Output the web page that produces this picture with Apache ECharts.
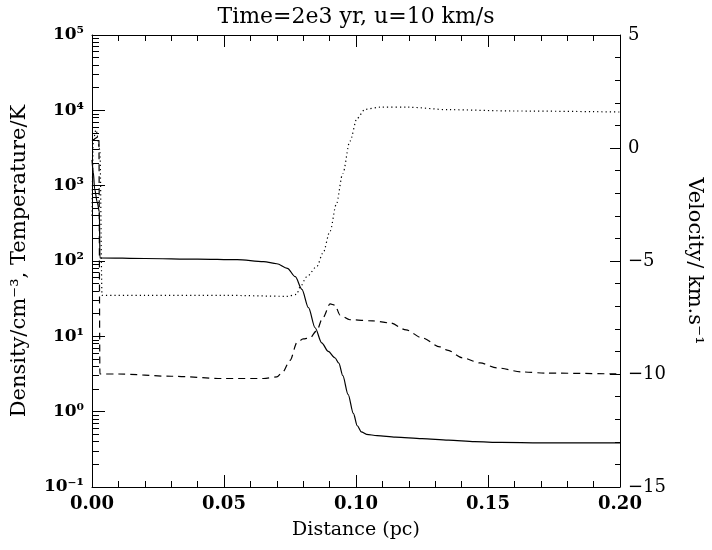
<!DOCTYPE html>
<html>
<head>
<meta charset="utf-8">
<script src="https://cdn.jsdelivr.net/npm/echarts@6/dist/echarts.min.js"></script>
<style>html,body{margin:0;padding:0;background:#fff;}#c{width:712px;height:550px;}</style>
</head>
<body>
<div id="c"></div>
<script>
// Density (solid), left log axis
var densX = [0, 0.0005, 0.001, 0.002, 0.0028, 0.003, 0.02, 0.04, 0.055, 0.065, 0.07, 0.074, 0.077, 0.0795, 0.082, 0.0845, 0.087, 0.0895, 0.092, 0.0935, 0.095, 0.097, 0.099, 0.1005, 0.102, 0.104, 0.108, 0.115, 0.125, 0.135, 0.145, 0.155, 0.17, 0.2];
var densY = [2200, 1500, 900, 600, 450, 110, 108, 106, 104, 98, 92, 80, 62, 42, 24, 13, 8.2, 6.3, 5.2, 4.4, 3.0, 1.7, 0.95, 0.65, 0.54, 0.50, 0.48, 0.46, 0.44, 0.42, 0.40, 0.39, 0.385, 0.385];
// Temperature (dotted), left log axis
var tempX = [0, 0.0005, 0.0015, 0.003, 0.0038, 0.02, 0.05, 0.074, 0.0775, 0.0788, 0.0814, 0.0852, 0.0875, 0.0902, 0.0925, 0.095, 0.0977, 0.1004, 0.1034, 0.109, 0.12, 0.135, 0.16, 0.2];
var tempY = [400, 4000, 5500, 3000, 35, 35, 35, 34, 36, 45, 62, 85, 128, 250, 560, 1450, 3900, 7800, 10300, 11000, 11000, 10200, 9800, 9500];
// Velocity (dashed), right axis
var velX = [0, 0.0026, 0.003, 0.01, 0.03, 0.05, 0.065, 0.07, 0.0723, 0.075, 0.0777, 0.08, 0.0826, 0.085, 0.0875, 0.0902, 0.092, 0.094, 0.0977, 0.1064, 0.1129, 0.119, 0.125, 0.1318, 0.1345, 0.1405, 0.147, 0.1534, 0.163, 0.172, 0.2];
var velY = [0.3, 0.5, -10.0, -10.0, -10.1, -10.2, -10.2, -10.13, -9.9, -9.4, -8.6, -8.45, -8.4, -8.1, -7.5, -6.9, -6.95, -7.4, -7.6, -7.65, -7.74, -8.05, -8.4, -8.8, -8.94, -9.29, -9.51, -9.73, -9.91, -9.96, -10.0];
// Tick labels
var xTicks = [0, 0.05, 0.10, 0.15, 0.20];
var logExponents = [-1, 0, 1, 2, 3, 4, 5];
var supMap = {'-':'\u207B','0':'\u2070','1':'\u00B9','2':'\u00B2','3':'\u00B3','4':'\u2074','5':'\u2075'};

function sup(n){ return String(n).split('').map(function(c){return supMap[c];}).join(''); }
function pairs(xs, ys, f){ return xs.map(function(x,i){ return [x, f ? f(ys[i]) : ys[i]]; }); }

var minorLog = [];
for (var e = -1; e < 5; e++) for (var k = 2; k <= 9; k++) minorLog.push(e + Math.log10(k));

var FONT = 'DejaVu Serif';
var chart = echarts.init(document.getElementById('c'), null, {renderer:'canvas'});
var axLine = {show:true, onZero:false, lineStyle:{color:'#000', width:1}};
chart.setOption({
  animation:false,
  backgroundColor:'#fff',
  title:{text:'Time=2e3 yr, u=10 km/s', left:'center', top:1,
    textStyle:{fontFamily:FONT, fontSize:22, fontWeight:'normal', color:'#000'}},
  grid:{left:92, right:92, top:35, bottom:63, containLabel:false, outerBoundsMode:'none'},
  xAxis:[
    {type:'value', position:'bottom', min:0, max:0.2, interval:0.05,
     axisLine:axLine, splitLine:{show:false},
     axisTick:{inside:true, length:12, lineStyle:{color:'#000'}},
     minorTick:{show:true, splitNumber:5, length:6, lineStyle:{color:'#000'}},
     axisLabel:{margin:8, fontFamily:FONT, fontSize:18, fontWeight:'bold', color:'#000',
       formatter:function(v){return v.toFixed(2);}},
     name:'Distance (pc)', nameLocation:'middle', nameGap:34,
     nameTextStyle:{fontFamily:FONT, fontSize:19, color:'#000'}},
    {type:'value', position:'top', min:0, max:0.2, interval:0.05,
     axisLine:axLine, splitLine:{show:false},
     axisTick:{inside:true, length:12, lineStyle:{color:'#000'}},
     minorTick:{show:true, splitNumber:5, length:6, lineStyle:{color:'#000'}},
     axisLabel:{show:false}}
  ],
  yAxis:[
    {type:'value', position:'left', min:-1, max:5, interval:1,
     axisLine:axLine, splitLine:{show:false},
     axisTick:{inside:true, length:13, lineStyle:{color:'#000'}},
     axisLabel:{margin:8, fontFamily:FONT, fontSize:17, fontWeight:'bold', color:'#000',
       formatter:function(v){ return logExponents.indexOf(v) >= 0 ? '10' + sup(v) : ''; }},
     name:'Density/cm\u207B\u00B3, Temperature/K', nameLocation:'middle', nameGap:62, nameRotate:90,
     nameTextStyle:{fontFamily:FONT, fontSize:21, color:'#000'}},
    {type:'value', position:'left', min:-1, max:5,
     axisLine:{show:false, onZero:false}, splitLine:{show:false}, axisLabel:{show:false},
     axisTick:{show:true, inside:true, length:7, customValues:minorLog, lineStyle:{color:'#000'}}},
    {type:'value', position:'right', min:-15, max:5, interval:5,
     axisLine:axLine, splitLine:{show:false},
     axisTick:{inside:true, length:10, lineStyle:{color:'#000'}},
     minorTick:{show:true, splitNumber:5, length:5, lineStyle:{color:'#000'}},
     axisLabel:{margin:8, fontFamily:FONT, fontSize:18, color:'#000',
       formatter:function(v){ return String(v).replace('-', '\u2212'); }},
     name:'Velocity/ km.s\u207B\u00B9', nameLocation:'middle', nameGap:64, nameRotate:-90,
     nameTextStyle:{fontFamily:FONT, fontSize:21, color:'#000'}}
  ],
  series:[
    {type:'line', name:'Density', xAxisIndex:0, yAxisIndex:0, showSymbol:false, smooth:0.3, smoothMonotone:'x',
     data:pairs(densX, densY, Math.log10), lineStyle:{color:'#000', width:1.2, type:'solid'}},
    {type:'line', name:'Temperature', xAxisIndex:0, yAxisIndex:0, showSymbol:false, smooth:0.3, smoothMonotone:'x',
     data:pairs(tempX, tempY, Math.log10), lineStyle:{color:'#000', width:1.2, type:[1.2,3]}},
    {type:'line', name:'Velocity', xAxisIndex:0, yAxisIndex:2, showSymbol:false, smooth:0.3, smoothMonotone:'x',
     data:pairs(velX, velY), lineStyle:{color:'#000', width:1.2, type:[7,5]}}
  ]
});
</script>
</body>
</html>
